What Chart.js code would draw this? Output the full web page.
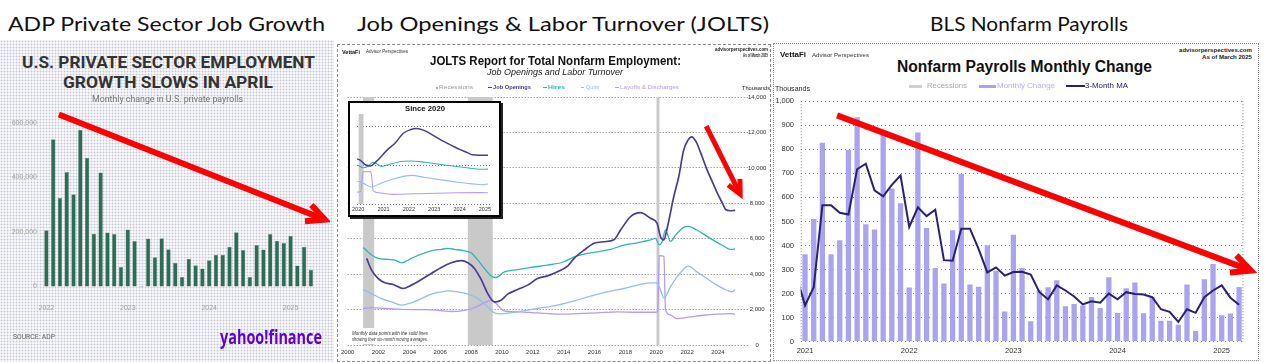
<!DOCTYPE html>
<html>
<head>
<meta charset="utf-8">
<script src="https://cdn.jsdelivr.net/npm/chart.js@4.4.1/dist/chart.umd.min.js"></script>
<style>
  body { margin: 0; width: 1271px; height: 362px; position: relative; overflow: hidden; background: #fff; font-family: Arial, "Liberation Sans", sans-serif; }
  canvas, .box, .t { position: absolute; }
  .t { white-space: nowrap; line-height: 1; transform-origin: 0 50%; }
  #adpBg { left: 0; top: 40px; width: 334px; height: 322px; background: #f6f6f8 radial-gradient(circle, #c6c8d6 0.8px, transparent 1.1px) 0 0 / 3px 3px; }
  #joltsFrame { left: 337px; top: 44px; width: 432px; height: 316px; border: 1px dashed #8a8a8a; }
  #nfpFrame { left: 773px; top: 43px; width: 484px; height: 316px; border: 1px dotted #8a8a8a; }
  #inset { left: 348px; top: 101px; width: 149px; height: 112px; border: 2px solid #000; box-shadow: 2px 2px 0 #222; background: #fff; }
  #note { left: 350px; top: 328px; width: 84px; height: 16px; background: #fff; }
</style>
</head>
<body>
<div class="box" id="adpBg"></div>
<div class="box" id="joltsFrame"></div>
<div class="box" id="nfpFrame"></div>
<canvas id="adp" width="330" height="220" style="left:0;top:100px"></canvas>
<canvas id="jolts" width="433" height="270" style="left:337px;top:90px"></canvas>
<div class="box" id="inset"></div>
<canvas id="joltsInset" width="149" height="112" style="left:350px;top:103px"></canvas>
<div class="box" id="note"></div>
<canvas id="nfp" width="485" height="270" style="left:773px;top:90px"></canvas>
<script>
// ---- ADP: monthly change in private payrolls, Jan 2022 - Apr 2025
var adpMonths = [];
for (var yr = 2022; yr <= 2025; yr++) {
    for (var m = 1; m <= 12; m++) {
        if (yr === 2025 && m > 4) break;
        adpMonths.push(yr + '-' + (m < 10 ? '0' : '') + m);
    }
}
var adpChange = [206000, 540000, 325000, 420000, 338000, 575000, 472000, 194000, 418000, 198000, 193000, 72000,
    209000, 167000, -3000, 176000, 107000, 177000, 137000, 87000, 35000, 102000, 78000, 66000,
    96000, 117000, 117000, 146000, 199000, 134000, 35000, 152000, 136000, 193000, 168000, 160000,
    186000, 77000, 146000, 62000];
var adpTicks = [0, 200000, 400000, 600000];

// ---- JOLTS: six-month moving averages, thousands [year, value]
var jobOpenings = [[2001.23, 4890], [2001.55, 4230], [2001.98, 3750], [2002.41, 3510], [2002.95, 3415], [2003.59, 3190],
    [2004.13, 3380], [2004.78, 3700], [2005.42, 4040], [2006.07, 4380], [2006.72, 4640], [2007.36, 4760], [2007.79, 4640],
    [2008.22, 4320], [2008.65, 3700], [2009.08, 2900], [2009.51, 2430], [2009.94, 2530], [2010.37, 2870], [2011.02, 3130],
    [2011.67, 3380], [2012.31, 3750], [2012.96, 3900], [2013.6, 4130], [2014.25, 4450], [2014.68, 4890], [2015.33, 5360],
    [2015.97, 5740], [2016.62, 5830], [2017.26, 5940], [2017.69, 6490], [2018.34, 7250], [2018.98, 7470], [2019.63, 7150],
    [2020.06, 6870], [2020.28, 6110], [2020.49, 5930], [2020.71, 6590], [2021.14, 8380], [2021.46, 9500], [2021.78, 11000],
    [2022.05, 11550], [2022.3, 11750], [2022.6, 11450], [2022.86, 10900], [2023.29, 9900], [2023.72, 9050], [2024.0, 8500],
    [2024.3, 8000], [2024.5, 7650], [2024.8, 7580], [2025.12, 7600]];
var hires = [[2001.0, 5510], [2001.55, 5076], [2001.98, 4890], [2002.63, 4830], [2003.06, 4790], [2003.49, 4640],
    [2004.13, 4890], [2004.78, 5130], [2005.42, 5320], [2006.07, 5400], [2006.5, 5450], [2006.93, 5400], [2007.58, 5320],
    [2008.0, 5210], [2008.44, 4790], [2008.87, 4320], [2009.3, 3890], [2009.62, 3810], [2010.16, 4130], [2011.02, 4260],
    [2011.88, 4380], [2012.96, 4510], [2014.03, 4700], [2014.68, 4980], [2015.33, 5130], [2016.19, 5260], [2017.05, 5400],
    [2017.91, 5640], [2018.77, 5770], [2019.63, 5930], [2019.95, 6020], [2020.2, 5650], [2020.38, 5830], [2020.6, 6500],
    [2020.92, 5850], [2021.3, 6250], [2021.78, 6640], [2022.1, 6700], [2022.64, 6490], [2023.5, 6020], [2024.36, 5590],
    [2024.8, 5400], [2025.12, 5420]];
var quits = [[2001.0, 3130], [2001.55, 2900], [2002.2, 2620], [2002.84, 2430], [2003.49, 2250], [2004.13, 2380],
    [2004.78, 2620], [2005.42, 2870], [2006.07, 3000], [2006.5, 3060], [2007.15, 3000], [2007.79, 2870], [2008.44, 2620],
    [2009.08, 2150], [2009.51, 1810], [2009.94, 1760], [2011.02, 1870], [2012.31, 2060], [2013.6, 2250], [2014.68, 2490],
    [2015.75, 2760], [2016.83, 3000], [2017.91, 3190], [2018.77, 3380], [2019.63, 3510], [2020.02, 3510], [2020.28, 3090],
    [2020.5, 2650], [2020.92, 3280], [2021.35, 3850], [2021.89, 4380], [2022.1, 4450], [2022.64, 4130], [2023.29, 3750],
    [2023.93, 3380], [2024.58, 3090], [2024.9, 3000], [2025.12, 3130]];
var layoffs = [[2001.0, 2060], [2001.55, 2110], [2002.41, 2060], [2003.27, 2020], [2004.13, 2000], [2004.99, 2000],
    [2005.85, 1960], [2006.72, 1890], [2007.58, 1960], [2008.22, 2110], [2008.87, 2380], [2009.3, 2530], [2009.73, 2250],
    [2010.16, 1920], [2011.02, 1870], [2012.31, 1810], [2013.6, 1740], [2014.9, 1770], [2016.19, 1810], [2017.48, 1870],
    [2018.77, 1850], [2019.95, 1850], [2020.1, 1900], [2020.2, 5050], [2020.5, 5000], [2020.6, 2000], [2020.9, 1700],
    [2021.35, 1490], [2022.21, 1590], [2023.07, 1680], [2023.93, 1740], [2024.8, 1770], [2025.12, 1740]];
var recStart = [2001.0, 2007.79, 2020.02];
var recEnd = [2001.72, 2009.4, 2020.21];
var joltsYears = [2000, 2002, 2004, 2006, 2008, 2010, 2012, 2014, 2016, 2018, 2020, 2022, 2024];
var joltsTicks = [0, 2000, 4000, 6000, 8000, 10000, 12000, 14000];
var insetYears = [2020, 2021, 2022, 2023, 2024, 2025];
var insetTicks = [0, 6000, 12000];

// ---- BLS nonfarm payrolls, thousands, Jan 2021 - Mar 2025
var nfpChange = [364, 510, 827, 364, 422, 797, 933, 488, 467, 861, 637, 576,
    225, 870, 473, 306, 242, 463, 698, 238, 228, 401, 295, 126,
    445, 306, 85, 214, 226, 256, 147, 157, 151, 186, 140, 268,
    119, 222, 246, 118, 186, 87, 87, 70, 238, 44, 260, 323,
    110, 117, 227];
// 3-month MA, Dec 2020 - Mar 2025
var nfpMA = [275, 151, 227, 567, 567, 536, 529, 717, 740, 629, 604, 652, 691,
    477, 559, 522, 549, 339, 337, 470, 470, 385, 288, 309, 275,
    290, 291, 279, 206, 176, 234, 213, 188, 155, 168, 162, 200,
    176, 206, 198, 196, 185, 135, 124, 82, 135, 120, 185, 213,
    234, 183, 154];
var nfpYears = [2021, 2022, 2023, 2024, 2025];
var nfpTicks = [0, 100, 200, 300, 400, 500, 600, 700, 800, 900, 1000];

Chart.defaults.font.family = 'Arial, "Liberation Sans", sans-serif';
Chart.defaults.color = '#333';

// red trend arrows, given in data units of each chart
Chart.register({
    id: 'arrow',
    afterDatasetsDraw: function (chart, args, o) {
        if (!o.from) return;
        var ctx = chart.ctx, x = chart.scales.x, y = chart.scales.y;
        var x1 = x.getPixelForValue(o.from[0]), y1 = y.getPixelForValue(o.from[1]);
        var x2 = x.getPixelForValue(o.to[0]), y2 = y.getPixelForValue(o.to[1]);
        var a = Math.atan2(y2 - y1, x2 - x1);
        ctx.save();
        ctx.strokeStyle = '#ff0000';
        ctx.lineWidth = o.width;
        ctx.lineJoin = 'miter';
        ctx.beginPath();
        ctx.moveTo(x1, y1);
        ctx.lineTo(x2 - o.width * Math.cos(a), y2 - o.width * Math.sin(a));
        ctx.stroke();
        ctx.beginPath();
        ctx.moveTo(x2 - o.head * Math.cos(a - 0.45), y2 - o.head * Math.sin(a - 0.45));
        ctx.lineTo(x2, y2);
        ctx.lineTo(x2 - o.head * Math.cos(a + 0.45), y2 - o.head * Math.sin(a + 0.45));
        ctx.stroke();
        ctx.restore();
    }
});

// recession shading
Chart.register({
    id: 'rec',
    beforeDatasetsDraw: function (chart, args, o) {
        if (!o.start) return;
        var ctx = chart.ctx, a = chart.chartArea, x = chart.scales.x;
        ctx.save();
        ctx.fillStyle = '#c9c9c9';
        o.start.forEach(function (s, i) {
            var l = Math.max(a.left, x.getPixelForValue(s));
            var r = Math.min(a.right, x.getPixelForValue(o.end[i]));
            if (r > l) ctx.fillRect(l, a.top, r - l, a.bottom - a.top);
        });
        ctx.restore();
    }
});

// dotted left / right plot edges
Chart.register({
    id: 'edges',
    beforeDatasetsDraw: function (chart, args, o) {
        if (!o.color) return;
        var ctx = chart.ctx, a = chart.chartArea;
        ctx.save();
        ctx.strokeStyle = o.color;
        ctx.setLineDash([1, 2]);
        ctx.beginPath();
        ctx.moveTo(a.left + 0.5, a.top); ctx.lineTo(a.left + 0.5, a.bottom);
        ctx.moveTo(a.right - 0.5, a.top); ctx.lineTo(a.right - 0.5, a.bottom);
        ctx.stroke();
        ctx.restore();
    }
});

function tickList(list) {
    return function (s) { s.ticks = list.map(function (v) { return { value: v }; }); };
}

// ADP bars
new Chart(document.getElementById('adp'), {
    type: 'bar',
    data: {
        labels: adpMonths,
        datasets: [{
            data: adpChange,
            backgroundColor: '#306b56',
            borderColor: '#6f9f89',
            borderWidth: 0.5,
            barPercentage: 0.66,
            categoryPercentage: 1
        }]
    },
    options: {
        responsive: false,
        animation: false,
        layout: { padding: { left: 0, right: 15.7, top: 12, bottom: 0 } },
        plugins: {
            legend: { display: false },
            tooltip: { enabled: false },
            arrow: { from: [1.84, 631000], to: [41.07, 245000], width: 6, head: 20 }
        },
        scales: {
            x: {
                grid: { display: false, drawTicks: false },
                border: { display: false },
                ticks: {
                    autoSkip: false, maxRotation: 0, padding: 12, color: '#a3a3a3', font: { size: 7 },
                    callback: function (v, i) { return adpMonths[i].slice(5) === '01' ? adpMonths[i].slice(0, 4) : ''; }
                },
                afterFit: function (s) { s.height = 28; }
            },
            y: {
                min: -20000,
                max: 640000,
                afterBuildTicks: tickList(adpTicks),
                grid: { display: false, drawTicks: false },
                border: { display: false },
                ticks: { padding: 6, color: '#a3a3a3', font: { size: 7 }, callback: function (v) { return v.toLocaleString('en-US'); } },
                afterFit: function (s) { s.width = 43; }
            }
        }
    }
});

// JOLTS lines
function joltsSets(w) {
    function set(d, color, lw) {
        return {
            data: d.map(function (p) { return { x: p[0], y: p[1] }; }),
            borderColor: color, borderWidth: lw, pointRadius: 0,
            cubicInterpolationMode: 'monotone', fill: false
        };
    }
    return [
        set(jobOpenings, '#4b3c91', w + 0.4),
        set(hires, '#2fb4b4', w),
        set(quits, '#93bdf3', w),
        set(layoffs, '#b59bf2', w)
    ];
}
var dottedGrid = { color: '#7a7a7a', drawTicks: false, borderDash: [1, 2] };

new Chart(document.getElementById('jolts'), {
    type: 'line',
    data: { datasets: joltsSets(1.3) },
    options: {
        responsive: false,
        animation: false,
        layout: { padding: { left: 9, right: 4, top: 7, bottom: 0 } },
        plugins: {
            legend: { display: false },
            tooltip: { enabled: false },
            rec: { start: recStart, end: recEnd },
            arrow: { from: [2023.24, 12360], to: [2025.44, 8520], width: 5, head: 15 }
        },
        scales: {
            x: {
                type: 'linear', min: 2000, max: 2025.95,
                afterBuildTicks: tickList(joltsYears),
                grid: { display: false, drawTicks: false },
                border: { display: false },
                ticks: { font: { size: 6 }, padding: 4, maxRotation: 0, autoSkip: false, callback: function (v) { return String(v); } },
                afterFit: function (s) { s.height = 15; }
            },
            y: {
                position: 'right', min: 0, max: 14000,
                afterBuildTicks: tickList(joltsTicks),
                grid: dottedGrid,
                border: { display: false, dash: [1, 2] },
                ticks: { font: { size: 6 }, padding: 0, crossAlign: 'center', callback: function (v) { return v.toLocaleString('en-US'); } },
                afterFit: function (s) { s.width = 18; }
            }
        }
    }
});

// JOLTS "Since 2020" inset
new Chart(document.getElementById('joltsInset'), {
    type: 'line',
    data: { datasets: joltsSets(1.1) },
    options: {
        responsive: false,
        animation: false,
        layout: { padding: { left: 7, right: 9, top: 11, bottom: 0 } },
        plugins: {
            legend: { display: false },
            tooltip: { enabled: false },
            rec: { start: recStart, end: recEnd }
        },
        scales: {
            x: {
                type: 'linear', min: 2019.96, max: 2025.2,
                afterBuildTicks: tickList(insetYears),
                grid: { display: false, drawTicks: false },
                border: { display: false },
                ticks: { font: { size: 5.5 }, padding: 2, maxRotation: 0, autoSkip: false, callback: function (v) { return String(v); } },
                afterFit: function (s) { s.height = 11; }
            },
            y: {
                min: 0, max: 14000,
                afterBuildTicks: tickList(insetTicks),
                grid: dottedGrid,
                border: { display: false, dash: [1, 2] },
                ticks: { display: false },
                afterFit: function (s) { s.width = 0; }
            }
        }
    }
});

// BLS payrolls
new Chart(document.getElementById('nfp'), {
    type: 'bar',
    data: {
        datasets: [{
            type: 'line',
            data: nfpMA.map(function (v, i) { return { x: 2020 + (11 + i) / 12, y: v }; }),
            borderColor: '#2a2070', borderWidth: 2, pointRadius: 0, tension: 0, order: 0
        }, {
            type: 'bar',
            data: nfpChange.map(function (v, i) { return { x: 2021 + i / 12, y: v }; }),
            backgroundColor: '#aaa4f0', barPercentage: 0.61, categoryPercentage: 1, order: 1
        }]
    },
    options: {
        responsive: false,
        animation: false,
        layout: { padding: { left: 0, right: 14.6, top: 9, bottom: 0 } },
        plugins: {
            legend: { display: false },
            tooltip: { enabled: false },
            edges: { color: '#888' },
            arrow: { from: [2021.307, 941], to: [2025.28, 296], width: 6, head: 21 }
        },
        scales: {
            x: {
                type: 'linear', offset: false, min: 2020.9583, max: 2025.2083,
                afterBuildTicks: tickList(nfpYears),
                grid: { display: false, drawTicks: false },
                border: { display: false },
                ticks: { font: { size: 7.5 }, padding: 5, maxRotation: 0, autoSkip: false, callback: function (v) { return String(v); } },
                afterFit: function (s) { s.height = 18.3; }
            },
            y: {
                min: 0, max: 1000,
                afterBuildTicks: tickList(nfpTicks),
                grid: { color: '#888', drawTicks: false, borderDash: [1, 3] },
                border: { display: false, dash: [1, 3] },
                ticks: { font: { size: 7.5 }, padding: 6.7, callback: function (v) { return v.toLocaleString('en-US'); } },
                afterFit: function (s) { s.width = 27.7; }
            }
        }
    }
});

// ---- texts
function label(t, x, y, font, color, w, al) {
    var d = document.createElement('div');
    d.className = 't';
    d.textContent = t;
    d.style.font = font;
    d.style.lineHeight = '1';
    d.style.color = color;
    document.body.appendChild(d);
    var nat = d.getBoundingClientRect().width;
    var tw = w || nat;
    if (w) d.style.transform = 'scaleX(' + (w / nat) + ')';
    var h = d.getBoundingClientRect().height;
    d.style.left = (al === 'c' ? x - tw / 2 : al === 'r' ? x - tw : x) + 'px';
    d.style.top = (y - h / 2) + 'px';
}
function box(x, y, w, h, color) {
    var d = document.createElement('div');
    d.className = 'box';
    d.style.cssText = 'left:' + x + 'px;top:' + y + 'px;width:' + w + 'px;height:' + h + 'px;background:' + color;
    document.body.appendChild(d);
}

var head = '20px Lato, "Open Sans", sans-serif';
label('ADP Private Sector Job Growth', 8, 23, head, '#111', 317);
label('Job Openings & Labor Turnover (JOLTS)', 357, 23, head, '#111', 412);
label('BLS Nonfarm Payrolls', 930, 23, head, '#111', 198);

label('U.S. PRIVATE SECTOR EMPLOYMENT', 168.5, 63, 'bold 16px Roboto', '#333', 293, 'c');
label('GROWTH SLOWS IN APRIL', 168, 82.5, 'bold 16px Roboto', '#333', 210, 'c');
label('Monthly change in U.S. private payrolls', 167.5, 99.5, '9px Roboto', '#777', 151, 'c');
label('SOURCE: ADP', 13, 337.5, '7px Roboto', '#666', 42);
label('yahoo!finance', 220, 337, 'bold 19px "Open Sans"', '#6001d2', 102);

label('VettaFi', 342, 52, 'bold 6px Arial', '#111', 18);
label('Advisor Perspectives', 366, 52, '4.5px Arial', '#333', 42);
label('JOLTS Report for Total Nonfarm Employment:', 555.5, 60, 'bold 13px Arial', '#111', 251, 'c');
label('Job Openings and Labor Turnover', 555, 72, 'italic 9px Arial', '#222', 136, 'c');
label('advisorperspectives.com', 768, 49.5, 'bold 5px Arial', '#222', 53, 'r');
label('As of March 2025', 768, 55, 'bold 5px Arial', '#222', 25, 'r');
box(435.5, 86.5, 2.5, 2, '#b0b0b0');
label('Recessions', 439, 87.5, '5.5px Arial', '#9a9a9a', 34);
box(488, 87, 4, 1, '#4b3c91');
label('Job Openings', 493, 87.5, 'bold 5.5px Arial', '#4b3c91', 38);
box(543, 87, 3.5, 1, '#2fb4b4');
label('Hires', 548, 87.5, 'bold 5.5px Arial', '#2fb4b4', 17);
box(581, 87, 3, 1, '#93bdf3');
label('Quits', 586, 87.5, '5.5px Arial', '#93bdf3', 13);
box(615, 87, 3.5, 1, '#b59bf2');
label('Layoffs & Discharges', 620, 87.5, '5.5px Arial', '#b59bf2', 59);
label('Thousands', 770, 87.5, '6px Arial', '#222', 28, 'r');
label('Since 2020', 425, 108.5, 'bold 8px Arial', '#111', 40, 'c');
label('Monthly data points with the solid lines', 352, 333, 'italic 5px Arial', '#333', 76);
label('showing their six-month moving averages.', 352, 339, 'italic 5px Arial', '#333', 76);

label('VettaFi', 780, 55, 'bold 8px Arial', '#111', 26);
label('Advisor Perspectives', 812, 55.5, '5.5px Arial', '#333', 57);
label('Nonfarm Payrolls Monthly Change', 1024.5, 67, 'bold 16px Arial', '#111', 255, 'c');
label('advisorperspectives.com', 1252, 50, 'bold 6px Arial', '#222', 73, 'r');
label('As of March 2025', 1252, 57, 'bold 6px Arial', '#222', 50, 'r');
box(909, 84.5, 13, 3.5, '#d0d0d0');
label('Recessions', 927, 86, '7.5px Arial', '#aaa', 40);
box(979, 84.5, 17, 3.5, '#aaa4f0');
label('Monthly Change', 997, 86, '7.5px Arial', '#b6b0f2', 58);
box(1066, 85, 19, 1.5, '#2a2070');
label('3-Month MA', 1085, 86, '7.5px Arial', '#2a2070', 43);
label('Thousands', 775, 89, '6.5px Arial', '#222', 35);
</script>
</body>
</html>
